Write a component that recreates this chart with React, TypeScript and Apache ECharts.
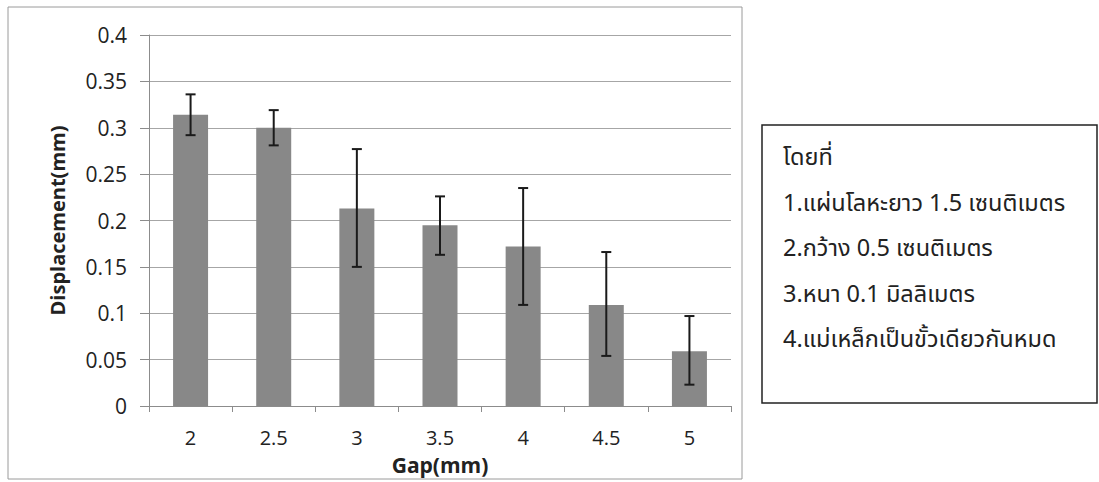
import React, { useEffect, useRef } from "react";
import * as echarts from "echarts";

// Gap between magnet and metal strip (mm)
const gaps = ["2", "2.5", "3", "3.5", "4", "4.5", "5"];
// Mean displacement (mm)
const displacement = [0.314, 0.3, 0.213, 0.195, 0.172, 0.109, 0.059];
// Error bar limits (mm)
const upperLimit = [0.336, 0.319, 0.277, 0.226, 0.235, 0.166, 0.097];
const lowerLimit = [0.292, 0.281, 0.15, 0.163, 0.109, 0.054, 0.023];

const noteLines = [
  "โดยที่",
  "1.แผ่นโลหะยาว 1.5 เซนติเมตร",
  "2.กว้าง 0.5 เซนติเมตร",
  "3.หนา 0.1 มิลลิเมตร",
  "4.แม่เหล็กเป็นขั้วเดียวกันหมด",
];

const latin = "'Open Sans', 'Noto Sans', sans-serif";
const thai = "'Noto Sans Thai', 'Noto Sans Thai Looped', 'Noto Sans', 'DejaVu Sans', sans-serif";

export default function App() {
  const ref = useRef<HTMLDivElement>(null);

  useEffect(() => {
    if (!ref.current) return;
    const chart = echarts.init(ref.current, undefined, { renderer: "svg" });

    const errorData = gaps.map((_, i) => [i, upperLimit[i], lowerLimit[i]]);

    const noteTexts = noteLines.map((t, i) => ({
      type: "text",
      x: 783,
      y: 158 + i * 45.5,
      silent: true,
      style: {
        text: t,
        font: `23.5px ${thai}`,
        fill: "#222",
        verticalAlign: "middle",
      },
    }));

    chart.setOption({
      animation: false,
      backgroundColor: "#ffffff",
      grid: { left: 149, top: 35, width: 582, height: 371, containLabel: false },
      xAxis: {
        type: "category",
        data: gaps,
        name: "Gap(mm)",
        nameLocation: "middle",
        nameGap: 48,
        nameMoveOverlap: false,
        nameTextStyle: {
          fontFamily: latin,
          fontSize: 21,
          lineHeight: 22,
          fontWeight: "bold",
          color: "#222",
        },
        axisLine: { show: true, lineStyle: { color: "#8c8c8c", width: 1 } },
        axisTick: { show: true, length: 6, alignWithLabel: false, lineStyle: { color: "#8c8c8c" } },
        axisLabel: { fontFamily: latin, fontSize: 20, lineHeight: 20, color: "#222", margin: 21 },
        splitLine: { show: false },
      },
      yAxis: {
        type: "value",
        min: 0,
        max: 0.4,
        interval: 0.05,
        name: "Displacement(mm)",
        nameLocation: "middle",
        nameRotate: 90,
        nameGap: 82,
        nameMoveOverlap: false,
        nameTextStyle: { fontFamily: latin, fontSize: 20, fontWeight: "bold", color: "#222" },
        axisLine: { show: true, lineStyle: { color: "#8c8c8c", width: 1 } },
        axisTick: { show: true, length: 9, lineStyle: { color: "#8c8c8c" } },
        axisLabel: {
          fontFamily: latin,
          fontSize: 21,
          color: "#222",
          margin: 22,
          formatter: (v: number) => String(parseFloat(v.toFixed(2))),
        },
        splitLine: { show: true, lineStyle: { color: "#a6a6a6", width: 1 } },
      },
      series: [
        {
          type: "bar",
          data: displacement,
          barWidth: 35,
          itemStyle: { color: "#888888" },
        },
        {
          type: "custom",
          data: errorData,
          encode: { x: 0, y: [1, 2] },
          z: 5,
          renderItem: (params: any, api: any) => {
            const i = api.value(0);
            const hi = api.coord([i, api.value(1)]);
            const lo = api.coord([i, api.value(2)]);
            const cap = 5;
            const style = { stroke: "#1a1a1a", lineWidth: 2 };
            return {
              type: "group",
              children: [
                { type: "line", shape: { x1: hi[0], y1: hi[1], x2: lo[0], y2: lo[1] }, style },
                { type: "line", shape: { x1: hi[0] - cap, y1: hi[1], x2: hi[0] + cap, y2: hi[1] }, style },
                { type: "line", shape: { x1: lo[0] - cap, y1: lo[1], x2: lo[0] + cap, y2: lo[1] }, style },
              ],
            };
          },
        },
      ],
      graphic: [
        {
          type: "rect",
          shape: { x: 8, y: 7, width: 734, height: 472 },
          style: { fill: "none", stroke: "#9a9a9a", lineWidth: 1 },
          silent: true,
        },
        {
          type: "rect",
          shape: { x: 762, y: 125, width: 335, height: 278 },
          style: { fill: "#fff", stroke: "#222", lineWidth: 1.5 },
          silent: true,
        },
        ...noteTexts,
      ],
    });

    return () => chart.dispose();
  }, []);

  return (
    <div
      ref={ref}
      style={{ position: "absolute", left: 0, top: 0, width: 1099, height: 482, background: "#fff" }}
    />
  );
}
